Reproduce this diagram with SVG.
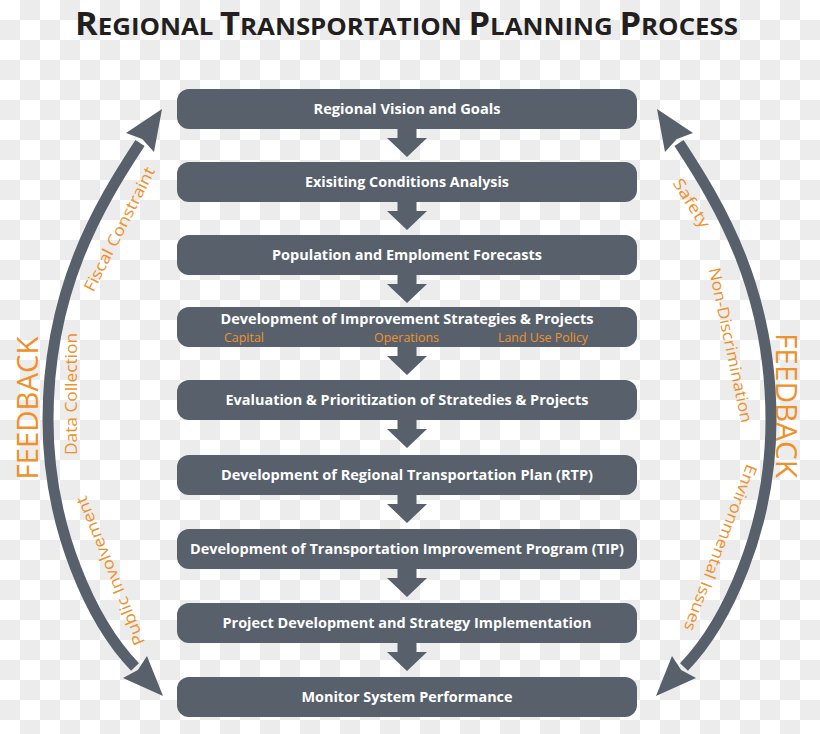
<svg xmlns="http://www.w3.org/2000/svg" width="820" height="734" viewBox="0 0 820 734">
<defs>
<pattern id="chk" width="40" height="40" patternUnits="userSpaceOnUse">
<rect width="40" height="40" fill="#ffffff"/>
<rect x="20" y="0" width="20" height="20" fill="#ececec"/>
<rect x="0" y="20" width="20" height="20" fill="#ececec"/>
</pattern>
<style>
.box{fill:#58616b}
.bt{font-family:'Open Sans','Liberation Sans',sans-serif;font-weight:700;font-size:14.5px;fill:#ffffff;text-anchor:middle;lengthAdjust:spacingAndGlyphs}
.sub{font-family:'Open Sans','Liberation Sans',sans-serif;font-size:12px;fill:#f0922b}
.down{fill:#58616b}
.arc{fill:none;stroke:#58616b;stroke-width:11}
.head{fill:#58616b}
.lbl{font-family:'Open Sans','Liberation Sans',sans-serif;font-size:16px;fill:#f0902a;text-anchor:middle;dominant-baseline:central}
.fb{font-family:'Open Sans','Liberation Sans',sans-serif;font-size:30px;fill:#f0902a;text-anchor:middle}
.title{font-family:'Open Sans','Liberation Sans',sans-serif;font-weight:700;fill:#231f20;text-anchor:middle}
</style>
<polygon id="dn" points="-9.5,-1 9.5,-1 9.5,9 20,9 0,28 -20,9 -9.5,9"/>
</defs>
<rect width="820" height="734" fill="url(#chk)"/>

<text class="title" x="406.5" y="35" textLength="663" lengthAdjust="spacingAndGlyphs"><tspan font-size="32">R</tspan><tspan font-size="24">EGIONAL </tspan><tspan font-size="32">T</tspan><tspan font-size="24">RANSPORTATION </tspan><tspan font-size="32">P</tspan><tspan font-size="24">LANNING </tspan><tspan font-size="32">P</tspan><tspan font-size="24">ROCESS</tspan></text>

<g id="connectors">
<use href="#dn" class="down" x="407" y="129"/>
<use href="#dn" class="down" x="407" y="202"/>
<use href="#dn" class="down" x="407" y="275"/>
<use href="#dn" class="down" x="407" y="347"/>
<use href="#dn" class="down" x="407" y="420"/>
<use href="#dn" class="down" x="407" y="495"/>
<use href="#dn" class="down" x="407" y="569"/>
<use href="#dn" class="down" x="407" y="643"/>
<path class="arc" d="M140,143 C98.8,205.7 48,290 48,420 C48,530 93.3,623.9 135,667"/>
<polygon class="head" points="162,109 126,133 142.2,139.1 154,152"/>
<polygon class="head" points="163,696 123,678 137.8,669.9 147,656"/>
<path class="arc" d="M679,143 C720.2,205.7 771,290 771,420 C771,530 725.7,623.9 684,667"/>
<polygon class="head" points="657,109 693,133 676.8,139.1 665,152"/>
<polygon class="head" points="656,696 696,678 681.2,669.9 672,656"/>
</g>

<g id="n1"><rect class="box" x="177" y="89" width="460" height="40" rx="12"/><text class="bt" x="407" y="113.5" textLength="187" lengthAdjust="spacingAndGlyphs">Regional Vision and Goals</text></g>
<g id="n2"><rect class="box" x="177" y="162" width="460" height="40" rx="12"/><text class="bt" x="407" y="186.5" textLength="204" lengthAdjust="spacingAndGlyphs">Exisiting Conditions Analysis</text></g>
<g id="n3"><rect class="box" x="177" y="235" width="460" height="40" rx="12"/><text class="bt" x="407" y="259.5" textLength="270" lengthAdjust="spacingAndGlyphs">Population and Emploment Forecasts</text></g>
<g id="n4"><rect class="box" x="177" y="307" width="460" height="40" rx="12"/><text class="bt" x="407" y="324" textLength="373" lengthAdjust="spacingAndGlyphs">Development of Improvement Strategies &amp; Projects</text>
<text class="sub" x="224" y="341.5" textLength="40" lengthAdjust="spacingAndGlyphs">Capital</text>
<text class="sub" x="374" y="341.5" textLength="65" lengthAdjust="spacingAndGlyphs">Operations</text>
<text class="sub" x="498" y="341.5" textLength="90" lengthAdjust="spacingAndGlyphs">Land Use Policy</text></g>
<g id="n5"><rect class="box" x="177" y="380" width="460" height="40" rx="12"/><text class="bt" x="407" y="404.5" textLength="363" lengthAdjust="spacingAndGlyphs">Evaluation &amp; Prioritization of Stratedies &amp; Projects</text></g>
<g id="n6"><rect class="box" x="177" y="455" width="460" height="40" rx="12"/><text class="bt" x="407" y="479.5" textLength="372" lengthAdjust="spacingAndGlyphs">Development of Regional Transportation Plan (RTP)</text></g>
<g id="n7"><rect class="box" x="177" y="529" width="460" height="40" rx="12"/><text class="bt" x="407" y="553.5" textLength="434" lengthAdjust="spacingAndGlyphs">Development of Transportation Improvement Program (TIP)</text></g>
<g id="n8"><rect class="box" x="177" y="603" width="460" height="40" rx="12"/><text class="bt" x="407" y="627.5" textLength="369" lengthAdjust="spacingAndGlyphs">Project Development and Strategy Implementation</text></g>
<g id="n9"><rect class="box" x="177" y="677" width="460" height="40" rx="12"/><text class="bt" x="407" y="701.5" textLength="211" lengthAdjust="spacingAndGlyphs">Monitor System Performance</text></g>

<g id="feedback-labels">
<text class="fb" transform="translate(38,408) rotate(-90)" textLength="143" lengthAdjust="spacingAndGlyphs">FEEDBACK</text>
<text class="fb" transform="translate(776,405.5) rotate(90)" textLength="145" lengthAdjust="spacingAndGlyphs">FEEDBACK</text>
<text class="lbl" transform="translate(119,229) rotate(-63)" textLength="137" lengthAdjust="spacingAndGlyphs">Fiscal Constraint</text>
<text class="lbl" transform="translate(71,394) rotate(-90)" textLength="122" lengthAdjust="spacingAndGlyphs">Data Collection</text>
<text class="lbl" transform="translate(110,571) rotate(-112)" textLength="159" lengthAdjust="spacingAndGlyphs">Public Involvement</text>
<text class="lbl" transform="translate(692,203) rotate(58)" textLength="55" lengthAdjust="spacingAndGlyphs">Safety</text>
<text class="lbl" transform="translate(731,345) rotate(78)" textLength="158" lengthAdjust="spacingAndGlyphs">Non-Discrimination</text>
<text class="lbl" transform="translate(721,548) rotate(111)" textLength="177" lengthAdjust="spacingAndGlyphs">Environmental Issues</text>
</g>
</svg>
